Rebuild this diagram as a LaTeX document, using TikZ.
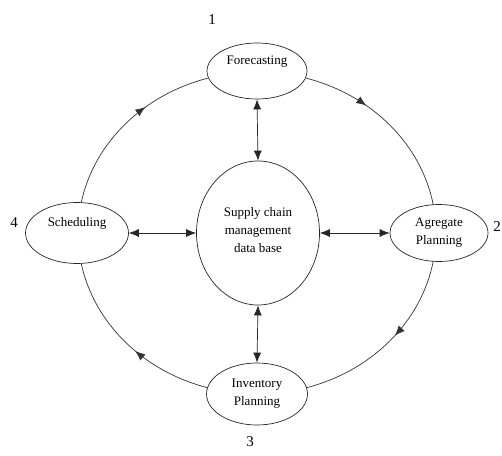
\documentclass[tikz,border=0pt]{standalone}
\usepackage{fontspec}
\setmainfont{Liberation Serif}
\usetikzlibrary{arrows.meta,decorations.markings,shapes.geometric,calc}
\begin{document}
\begin{tikzpicture}[x=1pt,y=1pt,
  every node/.style={inner sep=0pt},
  proc/.style={draw=black!85,line width=0.7pt,ellipse},
  txt/.style={font=\fontsize{13}{18}\selectfont,align=center},
  num/.style={font=\fontsize{15}{15}\selectfont},
  link/.style={draw=black!85,line width=0.7pt,{Latex[length=10pt,width=8pt]}-{Latex[length=10pt,width=8pt]}},
  cyc/.style={draw=black!80,line width=0.7pt,postaction={decorate}},
  mk/.style={decoration={markings,mark=at position #1 with {\arrow{Latex[length=10pt,width=8pt]}}}}]
\useasboundingbox (0,0) rectangle (502,455);
% process ellipses
\node[proc,minimum width=100pt,minimum height=56pt] (f) at (257,384) {};
\node[proc,minimum width=103pt,minimum height=61pt] (s) at (77,222) {};
\node[proc,minimum width=98pt,minimum height=57pt] (a) at (439,222) {};
\node[proc,minimum width=101pt,minimum height=62pt] (i) at (257,61) {};
\node[proc,minimum width=123pt,minimum height=144pt] (c) at (258,222) {};
% texts
\node[txt] (ft) at (257,393) {Forecasting};
\node[txt] (st) at (77,232) {Scheduling};
\node[txt] (at) at (439,222) {Agregate\\Planning};
\node[txt] (it) at (257,61) {Inventory\\Planning};
\node[txt] (ct) at (258,225) {Supply chain\\management\\data base};
% numbers
\node[num] (n1) at (212,435) {1};
\node[num] (n4) at (14,232) {4};
\node[num] (n2) at (497,228) {2};
\node[num] (n3) at (250,13) {3};
% links to the database
\draw[link] (f.south) -- (c.north);
\draw[link] (s.east) -- (c.west);
\draw[link] (c.east) -- (a.west);
\draw[link] (c.south) -- (i.north);
% cycle
\coordinate (O) at (257,222);
\coordinate (sN) at ($(O)+(169:179 and 161)$);
\coordinate (fE) at ($(O)+(74:179 and 161)$);
\coordinate (aS) at ($(O)+(-10:179 and 161)$);
\coordinate (iW) at ($(O)+(-106:179 and 161)$);
\draw[cyc,mk=0.63] (sN) arc[start angle=169,end angle=106,x radius=179,y radius=161];
\draw[cyc,mk=0.35] (fE) arc[start angle=74,end angle=10,x radius=179,y radius=161];
\draw[cyc,mk=0.45] (aS) arc[start angle=-10,end angle=-74,x radius=179,y radius=161];
\draw[cyc,mk=0.44] (iW) arc[start angle=-106,end angle=-169,x radius=179,y radius=161];
\end{tikzpicture}
\end{document}
